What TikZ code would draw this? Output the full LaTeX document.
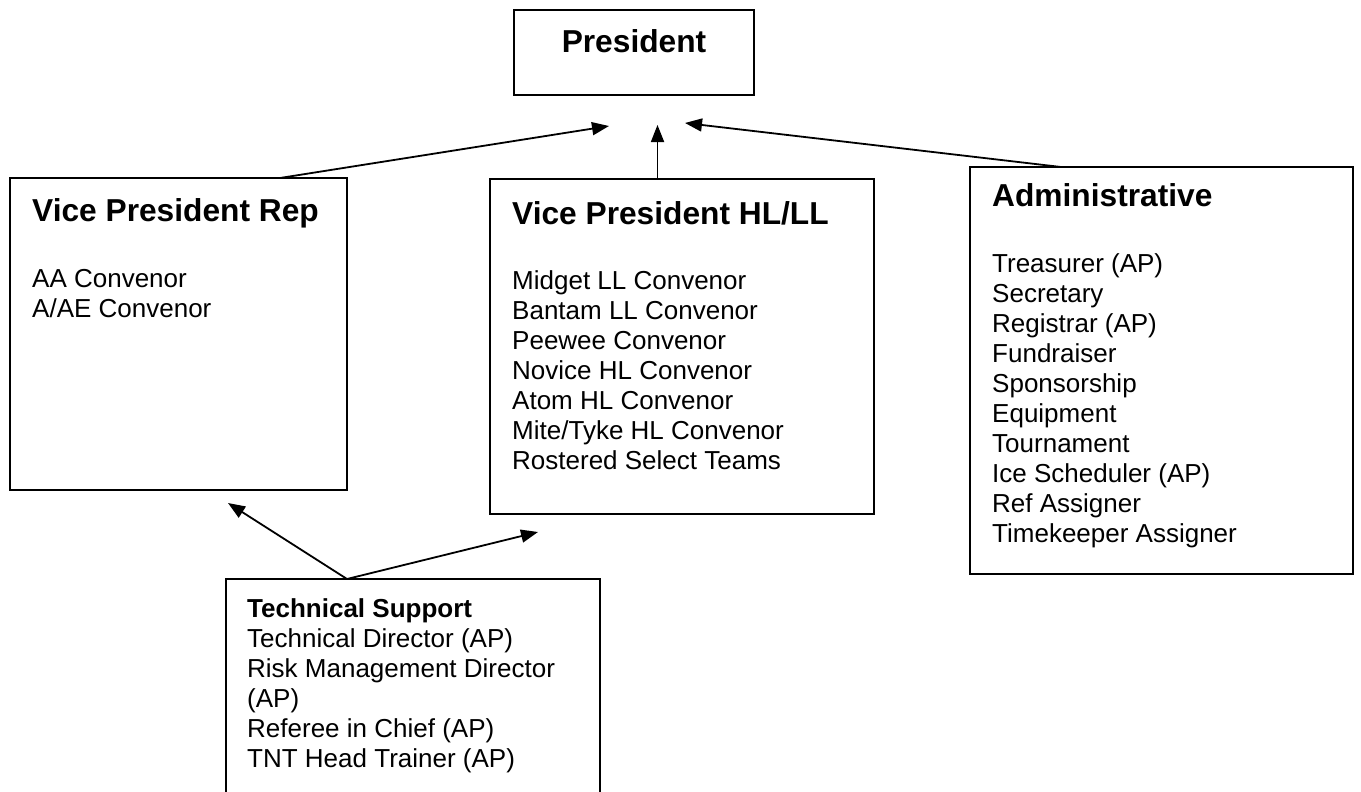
\documentclass[tikz,border=0pt]{standalone}
\usepackage{fontspec}
\setmainfont{Liberation Sans}
\usetikzlibrary{arrows.meta,calc}
\begin{document}
\begin{tikzpicture}[x=1pt,y=-1pt,
  box/.style={draw=black, line width=1.6pt, inner sep=0pt, outer sep=0pt, anchor=north west},
  ttl/.style={anchor=base west, inner sep=0pt, font=\fontsize{31.7}{36}\selectfont\bfseries},
  body/.style={anchor=base west, inner sep=0pt, font=\fontsize{26}{30}\selectfont},
  arr/.style={line width=1.8pt, -{Triangle[length=17pt,width=13pt]}}]
\useasboundingbox (0,0) rectangle (1361,792);
\clip (0,0) rectangle (1361,792);
% boxes
\node[box, minimum width=240pt, minimum height=85pt] (pres) at (514,10) {};
\node[box, minimum width=337pt, minimum height=312pt] (vprep) at (10,178) {};
\node[box, minimum width=384pt, minimum height=335pt] (vphl) at (490,179) {};
\node[box, minimum width=383pt, minimum height=407pt] (admin) at (970,167) {};
\node[box, minimum width=374pt, minimum height=240pt] (tech) at (226,579) {};
% texts
\node[ttl, anchor=base] (prest) at (634,53) {President};
\node[ttl] (vprept) at (32,221) {Vice President Rep};
\node[body] (vprepl) at (32,287) {\begin{tabular}[t]{@{}l@{}}AA Convenor\\A/AE Convenor\end{tabular}};
\node[ttl] (vphlt) at (512,224) {Vice President HL/LL};
\node[body] (vphll) at (512,289) {\begin{tabular}[t]{@{}l@{}}Midget LL Convenor\\Bantam LL Convenor\\Peewee Convenor\\Novice HL Convenor\\Atom HL Convenor\\Mite/Tyke HL Convenor\\Rostered Select Teams\end{tabular}};
\node[ttl] (admint) at (992,206) {Administrative};
\node[body] (adminl) at (992,272) {\begin{tabular}[t]{@{}l@{}}Treasurer (AP)\\Secretary\\Registrar (AP)\\Fundraiser\\Sponsorship\\Equipment\\Tournament\\Ice Scheduler (AP)\\Ref Assigner\\Timekeeper Assigner\end{tabular}};
\node[body] (techl) at (247,617) {\begin{tabular}[t]{@{}l@{}}\textbf{Technical Support}\\Technical Director (AP)\\Risk Management Director\\(AP)\\Referee in Chief (AP)\\TNT Head Trainer (AP)\end{tabular}};
% arrow tips
\coordinate (t1) at (609,126);
\coordinate (t2) at (657.5,125);
\coordinate (t3) at (685,123);
\coordinate (t4) at (228,503);
\coordinate (t5) at (538,532);
% arrows
\draw[arr] ([xshift=270pt]vprep.north west) -- (t1);
\draw[arr] ([xshift=167.5pt]vphl.north west) -- (t2);
\draw[arr] ([xshift=91pt]admin.north west) -- (t3);
\draw[arr] ([xshift=121pt]tech.north west) -- (t4);
\draw[arr] ([xshift=121pt]tech.north west) -- (t5);
\end{tikzpicture}
\end{document}
